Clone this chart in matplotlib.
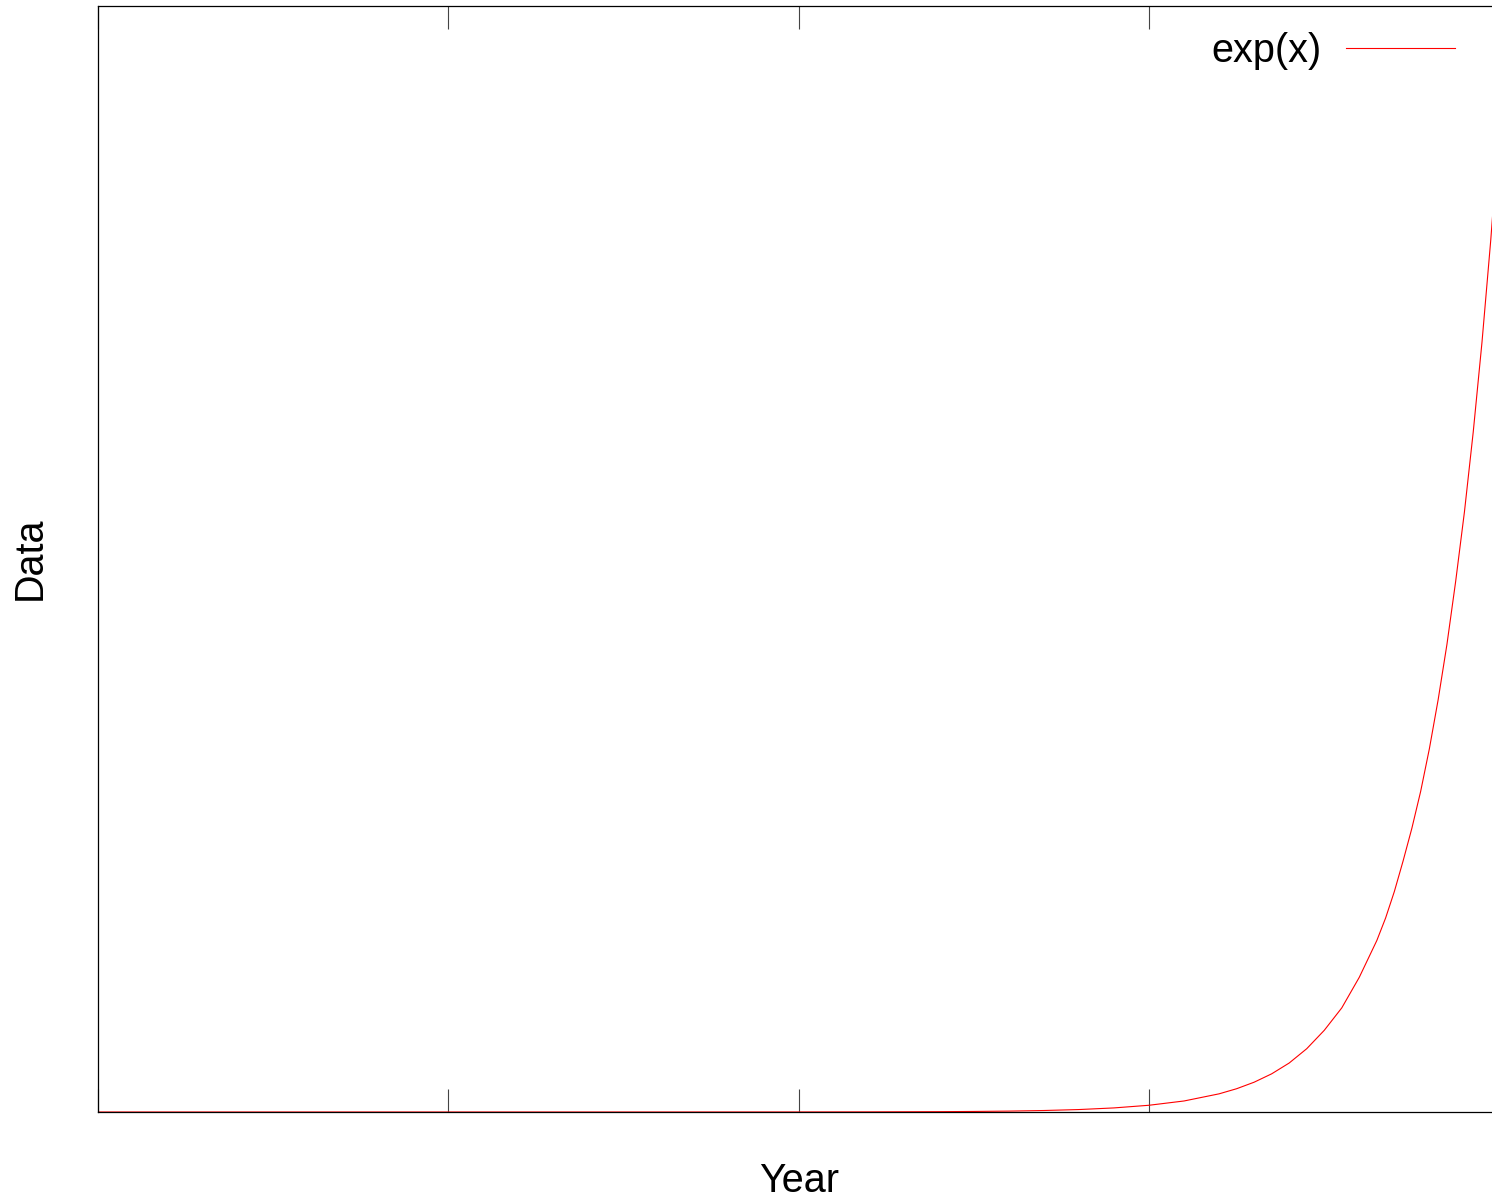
import matplotlib
matplotlib.use("Agg")
import matplotlib.pyplot as plt

plt.rcParams['font.family'] = ['Liberation Sans', 'DejaVu Sans']

# values (y in millions)
x_vals = [0, 2, 4, 6, 8, 10, 11, 12, 12.5, 13, 13.5, 14, 14.5, 15, 15.5,
          16, 16.25, 16.5, 16.75, 17, 17.25, 17.5, 17.75, 18, 18.125, 18.25,
          18.375, 18.5, 18.625, 18.75, 18.875, 19, 19.125, 19.25, 19.375,
          19.5, 19.625, 19.75, 19.875, 20]
y_vals = [0.0, 0.0, 0.0, 0.0, 0.0, 0.02, 0.06, 0.16, 0.27, 0.44, 0.73, 1.2,
          2.0, 3.3, 5.4,
          8.9, 11.4, 14.6, 18.7, 24, 31, 40, 51, 66, 75, 84,
          95, 108, 123, 139, 157, 178, 202, 229, 260,
          294, 333, 377, 427, 484]
x_ticks = [0, 5, 10, 15, 20]
series_label = 'exp(x)'

W, H = 1492, 1202
fig = plt.figure(figsize=(W / 100, H / 100), dpi=100)
left, right, top, bottom = 97.5, 1499.5, 5.5, 1112
ax = fig.add_axes([left / W, 1 - bottom / H, (right - left) / W, (bottom - top) / H])

ax.plot(x_vals, y_vals, color='red', linewidth=0.8, label=series_label)

ax.set_xlim(0, 20)
ax.set_ylim(0, 542)
ax.set_xticks(x_ticks)
ax.set_yticks([])
ax.tick_params(axis='x', direction='in', length=16.5, width=0.8, color='#444444',
               top=True, bottom=True, labelbottom=False, labeltop=False)
for s in ax.spines.values():
    s.set_linewidth(0.9)
    s.set_color('black')

fig.text(799 / W, 1 - 1181 / H, 'Year', fontsize=28.5, ha='center', va='center')
fig.text(30 / W, 1 - 558 / H, 'Data', fontsize=28.5, ha='center', va='center',
         rotation=90)

ax.legend(loc='center right', bbox_to_anchor=(1455 / W, 1 - 51 / H),
          bbox_transform=fig.transFigure, frameon=False, markerfirst=False,
          fontsize=28.5, handlelength=2.75, handletextpad=0.63, borderpad=0,
          borderaxespad=0)

fig.savefig('out.png', dpi=100)
